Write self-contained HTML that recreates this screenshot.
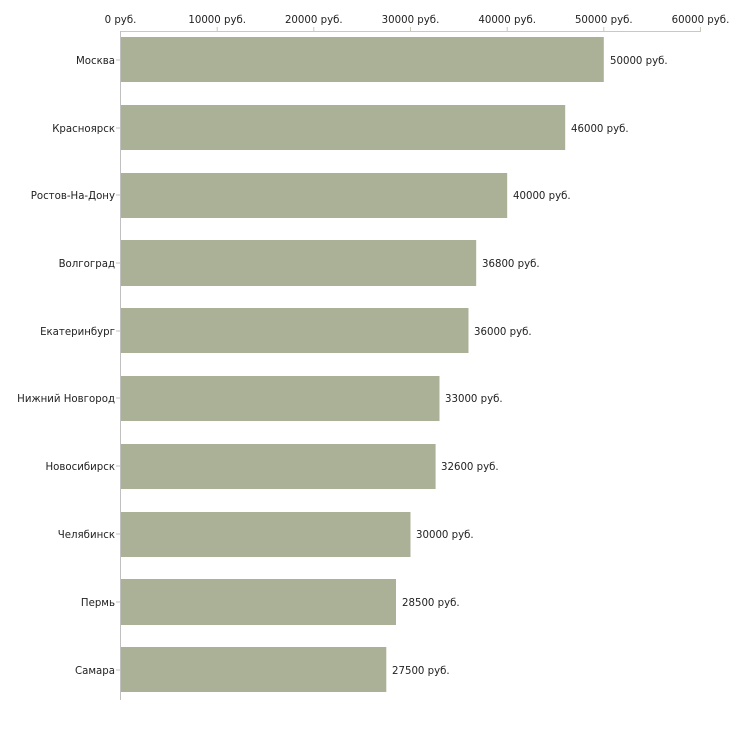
<!DOCTYPE html>
<html><head><meta charset="utf-8"><style>
body{margin:0;background:#fff;}
svg text{font-family:"DejaVu Sans","Liberation Sans",sans-serif;font-size:10.2px;fill:#222;}
</style></head><body>
<svg width="730" height="730" xmlns="http://www.w3.org/2000/svg">
<line x1="120.5" y1="31.5" x2="700.5" y2="31.5" stroke="#c9cbb8" stroke-width="1"/>
<line x1="120.5" y1="31" x2="120.5" y2="700" stroke="#c0c0c0" stroke-width="1"/>
<g stroke="#c9cbb8">
<line x1="217.2" y1="27" x2="217.2" y2="32"/><line x1="313.8" y1="27" x2="313.8" y2="32"/>
<line x1="410.5" y1="27" x2="410.5" y2="32"/><line x1="507.2" y1="27" x2="507.2" y2="32"/>
<line x1="603.8" y1="27" x2="603.8" y2="32"/><line x1="700.5" y1="27" x2="700.5" y2="32"/>
</g>
<g text-anchor="middle">
<text x="120.5" y="23">0 руб.</text><text x="217.2" y="23">10000 руб.</text><text x="313.8" y="23">20000 руб.</text>
<text x="410.5" y="23">30000 руб.</text><text x="507.2" y="23">40000 руб.</text><text x="603.8" y="23">50000 руб.</text>
<text x="700.5" y="23">60000 руб.</text>
</g>
<g fill="#abb197">
<rect x="121" y="37" width="482.8" height="45"/>
<rect x="121" y="105" width="444.2" height="45"/>
<rect x="121" y="173" width="386.2" height="45"/>
<rect x="121" y="240" width="355.2" height="46"/>
<rect x="121" y="308" width="347.5" height="45"/>
<rect x="121" y="376" width="318.5" height="45"/>
<rect x="121" y="444" width="314.6" height="45"/>
<rect x="121" y="512" width="289.5" height="45"/>
<rect x="121" y="579" width="275" height="46"/>
<rect x="121" y="647" width="265.3" height="45"/>
</g>
<g stroke="#c0c0c0">
<line x1="116" y1="60" x2="120" y2="60"/><line x1="116" y1="128" x2="120" y2="128"/><line x1="116" y1="195" x2="120" y2="195"/>
<line x1="116" y1="263" x2="120" y2="263"/><line x1="116" y1="331" x2="120" y2="331"/><line x1="116" y1="398" x2="120" y2="398"/>
<line x1="116" y1="466" x2="120" y2="466"/><line x1="116" y1="534" x2="120" y2="534"/><line x1="116" y1="602" x2="120" y2="602"/>
<line x1="116" y1="670" x2="120" y2="670"/>
</g>
<g text-anchor="end">
<text x="115" y="64">Москва</text><text x="115" y="132">Красноярск</text><text x="115" y="199">Ростов-На-Дону</text>
<text x="115" y="267">Волгоград</text><text x="115" y="335">Екатеринбург</text><text x="115" y="402">Нижний Новгород</text>
<text x="115" y="470">Новосибирск</text><text x="115" y="538">Челябинск</text><text x="115" y="606">Пермь</text>
<text x="115" y="674">Самара</text>
</g>
<text x="610" y="64">50000 руб.</text><text x="571" y="132">46000 руб.</text><text x="513" y="199">40000 руб.</text>
<text x="482" y="267">36800 руб.</text><text x="474" y="335">36000 руб.</text><text x="445" y="402">33000 руб.</text>
<text x="441" y="470">32600 руб.</text><text x="416" y="538">30000 руб.</text><text x="402" y="606">28500 руб.</text>
<text x="392" y="674">27500 руб.</text>
</svg>
</body></html>
